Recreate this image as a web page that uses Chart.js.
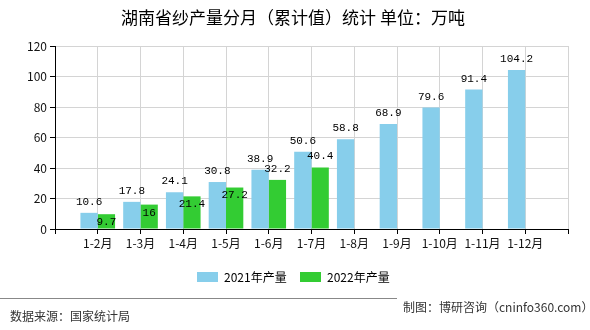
<!DOCTYPE html>
<html>
<head>
<meta charset="utf-8">
<script src="https://cdn.jsdelivr.net/npm/chart.js@4/dist/chart.umd.min.js"></script>
<style>
  html, body { margin: 0; padding: 0; background: #fff; }
  #wrap { width: 590px; height: 330px; position: relative; }
</style>
</head>
<body>
<div id="wrap"><canvas id="grafica" width="590" height="330"></canvas></div>
<script>
const meses = ["1-2月", "1-3月", "1-4月", "1-5月", "1-6月", "1-7月", "1-8月", "1-9月", "1-10月", "1-11月", "1-12月"];
const produccion2021 = [10.6, 17.8, 24.1, 30.8, 38.9, 50.6, 58.8, 68.9, 79.6, 91.4, 104.2];
const produccion2022 = [9.7, 16, 21.4, 27.2, 32.2, 40.4];
const ticksY = [0, 20, 40, 60, 80, 100, 120];

// where the 2022 value label sits: inside the bar top or above it
const posEtiqueta2022 = ["in", "in", "in", "in", "up", "up"];

const CJK = "'Noto Sans CJK SC', 'Noto Sans', sans-serif";
const MONO = "'Liberation Mono', 'DejaVu Sans Mono', monospace";

// empty slot on each side so the months sit on the grid lines
const etiquetas = ["", ...meses, ""];
const rellenar = (arr) => {
    const out = [null];
    for (let i = 0; i < meses.length; i++) out.push(i < arr.length ? arr[i] : null);
    out.push(null);
    return out;
};

const data = {
    labels: etiquetas,
    datasets: [
        {
            label: "2021年产量",
            data: rellenar(produccion2021),
            backgroundColor: '#87ceeb',
            categoryPercentage: 0.81,
            barPercentage: 1.0,
        },
        {
            label: "2022年产量",
            data: rellenar(produccion2022),
            backgroundColor: '#33cc33',
            categoryPercentage: 0.81,
            barPercentage: 1.0,
        }
    ]
};

// value labels, title, legend and footer
const decoracion = {
    id: 'decoracion',
    afterDatasetsDraw(chart) {
        const ctx = chart.ctx;
        ctx.save();
        ctx.font = "11px " + MONO;
        ctx.fillStyle = '#000';
        ctx.textAlign = 'center';
        ctx.textBaseline = 'middle';
        chart.data.datasets.forEach((ds, d) => {
            const meta = chart.getDatasetMeta(d);
            meta.data.forEach((bar, i) => {
                const v = ds.data[i];
                if (v === null) return;
                let y = bar.y - 11;
                if (d === 1 && posEtiqueta2022[i - 1] === "in") y = bar.y + 8;
                ctx.fillText(String(v), bar.x, y);
            });
        });
        ctx.restore();
    },
    afterDraw(chart) {
        const ctx = chart.ctx;
        ctx.save();
        ctx.fillStyle = '#000';
        ctx.textBaseline = 'middle';

        ctx.font = "17px " + CJK;
        ctx.textAlign = 'center';
        ctx.fillText("湖南省纱产量分月（累计值）统计 单位：万吨", 293, 18);

        // legend
        ctx.font = "12px " + CJK;
        ctx.textAlign = 'left';
        const items = [[197, '#87ceeb', "2021年产量"], [300, '#33cc33', "2022年产量"]];
        items.forEach(([x, color, txt]) => {
            ctx.fillStyle = color;
            ctx.fillRect(x, 272, 21, 10);
            ctx.fillStyle = '#000';
            ctx.fillText(txt, x + 27, 277);
        });

        // footer
        ctx.strokeStyle = '#888';
        ctx.lineWidth = 1;
        ctx.beginPath();
        ctx.moveTo(0, 298.5);
        ctx.lineTo(397, 298.5);
        ctx.stroke();
        ctx.fillStyle = '#333';
        ctx.font = "12px " + CJK;
        ctx.fillText("数据来源：国家统计局", 10, 316);
        ctx.fillText("制图：博研咨询（cninfo360.com）", 403, 307);
        ctx.restore();
    }
};

const config = {
    type: 'bar',
    data: data,
    options: {
        responsive: false,
        animation: false,
        layout: {padding: {left: 0, right: 22, top: 46, bottom: 71}},
        plugins: {
            legend: {display: false},
            tooltip: {enabled: false},
        },
        scales: {
            x: {
                offset: false,
                afterFit: (s) => { s.height = 30; },
                grid: {offset: false, color: '#d4d4d4', tickColor: '#000', tickLength: 5},
                border: {color: '#000'},
                ticks: {
                    autoSkip: false, maxRotation: 0, padding: 2,
                    color: '#111', font: {family: CJK, size: 12},
                },
            },
            y: {
                min: 0,
                max: 120,
                afterFit: (s) => { s.width = 55; },
                afterBuildTicks: (s) => { s.ticks = ticksY.map(v => ({value: v})); },
                grid: {color: '#d4d4d4', tickColor: '#000', tickLength: 5},
                border: {color: '#000'},
                ticks: {padding: 3, color: '#111', font: {family: CJK, size: 12}},
            }
        }
    },
    plugins: [decoracion]
};

const ctx = document.getElementById('grafica').getContext('2d');
const graficaHilo = new Chart(ctx, config);
</script>
</body>
</html>
